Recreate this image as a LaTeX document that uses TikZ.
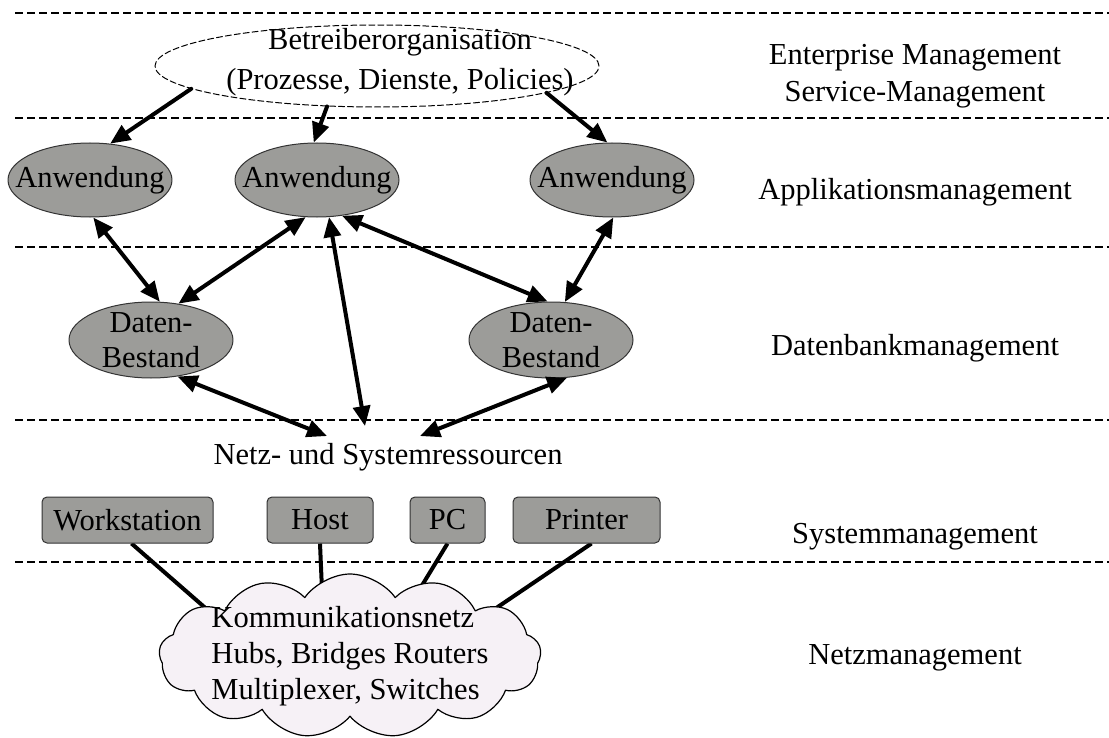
\documentclass[tikz,border=0pt]{standalone}
\usepackage{fontspec}
\setmainfont{Liberation Serif}
\usetikzlibrary{arrows.meta,shapes.geometric,shapes.symbols,backgrounds}
\definecolor{grau}{RGB}{156,156,153}
\definecolor{wolke}{RGB}{246,241,246}
\begin{document}
\begin{tikzpicture}[x=0.5pt,y=-0.5pt,line cap=round,line join=round,font=\fontsize{15.25}{18}\selectfont]
	\useasboundingbox (0,0) rectangle (1109,738);
	\tikzset{
		anw/.style={ellipse,draw=black!80,line width=0.5pt,fill=grau,minimum width=82pt,minimum height=37pt,inner xsep=-12pt,inner ysep=-6pt,align=center},
		kasten/.style={rectangle,rounded corners=2.5pt,draw=black!80,line width=0.5pt,fill=grau,minimum height=23pt,inner sep=0pt},
		einfach/.style={line width=2pt,-{Triangle[length=10pt,width=8.5pt]}},
		pfeil/.style={line width=2pt,{Triangle[length=10pt,width=8.5pt]}-{Triangle[length=10pt,width=8.5pt]}},
		leitung/.style={line width=2pt}
	}
	% Ebenen
	\foreach \y in {13,118,247,420,562}{\draw[line width=0.6pt,line cap=butt,dash pattern=on 4pt off 2pt] (15,\y) -- (1109,\y);}
	\node[ellipse,draw,line width=0.5pt,dash pattern=on 3pt off 1.5pt,minimum width=222pt,minimum height=41pt] (betr) at (377,66) {};
	\node[align=center,font=\fontsize{15.25}{20}\selectfont] (betrtext) at (400,62) {Betreiberorganisation\\(Prozesse, Dienste, Policies)};
	\node[anw] (anw1) at (90,180) {Anwendung};
	\node[anw] (anw2) at (317,180) {Anwendung};
	\node[anw] (anw3) at (612,180) {Anwendung};
	\node[anw,minimum height=38pt,font=\fontsize{15.25}{17.5}\selectfont] (db1) at (151,340) {Daten-\\Bestand};
	\node[anw,minimum height=38pt,font=\fontsize{15.25}{17.5}\selectfont] (db2) at (551,340) {Daten-\\Bestand};
	\node (netzres) at (388,457) {Netz- und Systemressourcen};
	\node[kasten,minimum width=85.5pt] (ws) at (127.5,520) {Workstation};
	\node[kasten,minimum width=53pt] (host) at (320,520) {Host};
	\node[kasten,minimum width=37.5pt] (pc) at (447.5,520) {PC};
	\node[kasten,minimum width=73.5pt] (printer) at (586.5,520) {Printer};
	\node[cloud,cloud puffs=13,cloud puff arc=110,cloud ignores aspect,draw,line width=0.6pt,fill=wolke,minimum width=191pt,minimum height=82pt,inner xsep=-20pt,inner ysep=-10pt,align=left] (netz) at (350,656) {Kommunikationsnetz\\Hubs, Bridges Routers\\Multiplexer, Switches};
	% Ebenen rechts
	\node[align=center,font=\fontsize{15.25}{18.5}\selectfont] (l1) at (915,76) {Enterprise Management\\Service-Management};
	\node (l2) at (915,192) {Applikationsmanagement};
	\node (l3) at (915,348) {Datenbankmanagement};
	\node (l4) at (915,537) {Systemmanagement};
	\node (l5) at (915,658) {Netzmanagement};
	% Pfeile
	\draw[einfach] (betr.-173.5) -- (anw1.61);
	\draw[einfach] (betr.-141) -- (anw2.95);
	\draw[einfach] (betr.-9) -- (anw3.97);
	\draw[pfeil] (anw1.-85) -- (db1.77);
	\draw[pfeil] (anw2.-107) -- (db1.53);
	\draw[pfeil] (anw2.-72) -- ([xshift=-11.5pt,yshift=5pt]netzres.north);
	\draw[pfeil] (anw2.-55) -- (db2.95);
	\draw[pfeil] (anw3.-88) -- (db2.70);
	\draw[pfeil] (db1.-54) -- ([xshift=-30.5pt]netzres.north);
	\draw[pfeil] (db2.-67) -- ([xshift=16pt]netzres.north);
	\begin{pgfonlayer}{background}
		\draw[leitung] ([xshift=2pt]ws.south) -- ([xshift=-70pt,yshift=22pt]netz.center);
		\draw[leitung] (host.south) -- ([xshift=-14pt,yshift=33pt]netz.center);
		\draw[leitung] (pc.south) -- ([xshift=34pt,yshift=32pt]netz.center);
		\draw[leitung] ([xshift=2.5pt]printer.south) -- ([xshift=65pt,yshift=18.5pt]netz.center);
	\end{pgfonlayer}
\end{tikzpicture}
\end{document}
